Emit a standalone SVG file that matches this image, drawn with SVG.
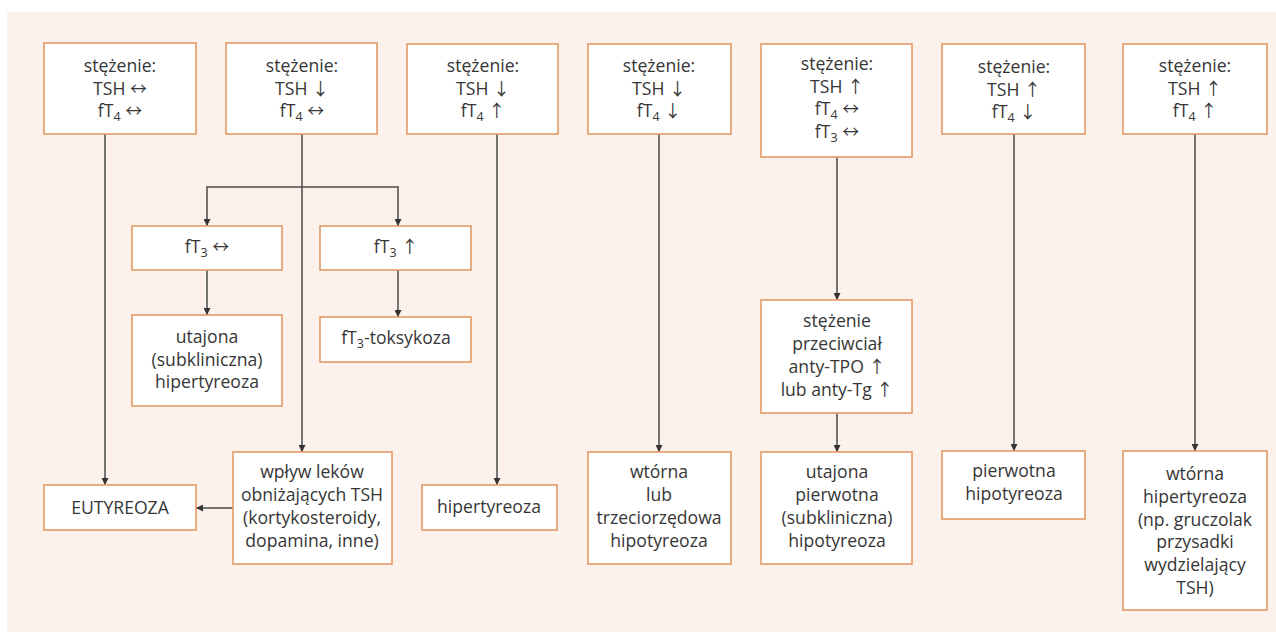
<svg xmlns="http://www.w3.org/2000/svg" width="1276" height="634" viewBox="0 0 1276 634">
<style>
.bx{fill:#ffffff;stroke:#e39a66;stroke-width:1.6}
.t{font-family:"Open Sans","Liberation Sans",sans-serif;font-size:17.6px;fill:#363636;text-anchor:middle}
.s{font-size:12.5px}
.a{font-family:"Noto Sans CJK SC","DejaVu Sans",sans-serif;font-size:17px}
.c{fill:none;stroke:#4a4a4a;stroke-width:1.5}
</style>
<defs>
<marker id="ah" viewBox="0 0 10 10" refX="10" refY="5" markerWidth="7" markerHeight="7" markerUnits="userSpaceOnUse" orient="auto">
<path d="M0,0 L10,5 L0,10 z" fill="#333"/>
</marker>
</defs>
<rect x="7" y="12" width="1269" height="620" fill="#fcf1eb"/>
<g id="connectors">
<path class="c" d="M105,134 V485" marker-end="url(#ah)"/>
<path class="c" d="M302,134 V452" marker-end="url(#ah)"/>
<path class="c" d="M302,187 H207 V226" marker-end="url(#ah)"/>
<path class="c" d="M302,187 H398 V226" marker-end="url(#ah)"/>
<path class="c" d="M207,270 V315" marker-end="url(#ah)"/>
<path class="c" d="M398,270 V317" marker-end="url(#ah)"/>
<path class="c" d="M233,508 H196" marker-end="url(#ah)"/>
<path class="c" d="M497,134 V485" marker-end="url(#ah)"/>
<path class="c" d="M659,134 V452" marker-end="url(#ah)"/>
<path class="c" d="M837,157 V300" marker-end="url(#ah)"/>
<path class="c" d="M837,413 V452" marker-end="url(#ah)"/>
<path class="c" d="M1014,134 V451" marker-end="url(#ah)"/>
<path class="c" d="M1195,134 V451" marker-end="url(#ah)"/>
</g>
<g id="n1">
<rect class="bx" x="44" y="43" width="152" height="91"/>
<text class="t" x="120" y="72">stężenie:</text>
<text class="t" x="120" y="95">TSH <tspan class="a">↔</tspan></text>
<text class="t" x="120" y="117">fT<tspan class="s" dy="4">4</tspan><tspan dy="-4"> </tspan><tspan class="a">↔</tspan></text>
</g>
<g id="n2">
<rect class="bx" x="226" y="43" width="151" height="91"/>
<text class="t" x="302" y="72">stężenie:</text>
<text class="t" x="302" y="95">TSH <tspan class="a">↓</tspan></text>
<text class="t" x="302" y="117">fT<tspan class="s" dy="4">4</tspan><tspan dy="-4"> </tspan><tspan class="a">↔</tspan></text>
</g>
<g id="n3">
<rect class="bx" x="407" y="44" width="151" height="90"/>
<text class="t" x="483" y="72">stężenie:</text>
<text class="t" x="483" y="95">TSH <tspan class="a">↓</tspan></text>
<text class="t" x="483" y="117">fT<tspan class="s" dy="4">4</tspan><tspan dy="-4"> </tspan><tspan class="a">↑</tspan></text>
</g>
<g id="n4">
<rect class="bx" x="588" y="44" width="143" height="90"/>
<text class="t" x="659" y="72">stężenie:</text>
<text class="t" x="659" y="95">TSH <tspan class="a">↓</tspan></text>
<text class="t" x="659" y="117">fT<tspan class="s" dy="4">4</tspan><tspan dy="-4"> </tspan><tspan class="a">↓</tspan></text>
</g>
<g id="n5">
<rect class="bx" x="761" y="44" width="151" height="113"/>
<text class="t" x="837" y="70">stężenie:</text>
<text class="t" x="837" y="93">TSH <tspan class="a">↑</tspan></text>
<text class="t" x="837" y="115">fT<tspan class="s" dy="4">4</tspan><tspan dy="-4"> </tspan><tspan class="a">↔</tspan></text>
<text class="t" x="837" y="138">fT<tspan class="s" dy="4">3</tspan><tspan dy="-4"> </tspan><tspan class="a">↔</tspan></text>
</g>
<g id="n6">
<rect class="bx" x="942" y="44" width="143" height="90"/>
<text class="t" x="1014" y="73">stężenie:</text>
<text class="t" x="1014" y="96">TSH <tspan class="a">↑</tspan></text>
<text class="t" x="1014" y="118">fT<tspan class="s" dy="4">4</tspan><tspan dy="-4"> </tspan><tspan class="a">↓</tspan></text>
</g>
<g id="n7">
<rect class="bx" x="1123" y="44" width="144" height="90"/>
<text class="t" x="1195" y="72">stężenie:</text>
<text class="t" x="1195" y="95">TSH <tspan class="a">↑</tspan></text>
<text class="t" x="1195" y="117">fT<tspan class="s" dy="4">4</tspan><tspan dy="-4"> </tspan><tspan class="a">↑</tspan></text>
</g>
<g id="fT3n">
<rect class="bx" x="132" y="226" width="150" height="44"/>
<text class="t" x="207" y="253">fT<tspan class="s" dy="4">3</tspan><tspan dy="-4"> </tspan><tspan class="a">↔</tspan></text>
</g>
<g id="fT3u">
<rect class="bx" x="320" y="226" width="151" height="44"/>
<text class="t" x="396" y="253">fT<tspan class="s" dy="4">3</tspan><tspan dy="-4"> </tspan><tspan class="a">↑</tspan></text>
</g>
<g id="utajona_hiper">
<rect class="bx" x="132" y="315" width="150" height="91"/>
<text class="t" x="207" y="343">utajona</text>
<text class="t" x="207" y="366">(subkliniczna)</text>
<text class="t" x="207" y="388">hipertyreoza</text>
</g>
<g id="toksykoza">
<rect class="bx" x="320" y="317" width="151" height="45"/>
<text class="t" x="396" y="344">fT<tspan class="s" dy="4">3</tspan><tspan dy="-4">-toksykoza</tspan></text>
</g>
<g id="eutyreoza">
<rect class="bx" x="44" y="485" width="152" height="45"/>
<text class="t" x="120" y="514">EUTYREOZA</text>
</g>
<g id="wplyw">
<rect class="bx" x="233" y="452" width="159" height="112"/>
<text class="t" x="312" y="478">wpływ leków</text>
<text class="t" x="312" y="501">obniżających TSH</text>
<text class="t" x="312" y="524">(kortykosteroidy,</text>
<text class="t" x="312" y="547">dopamina, inne)</text>
</g>
<g id="hipertyreoza">
<rect class="bx" x="422" y="485" width="135" height="45"/>
<text class="t" x="489" y="513">hipertyreoza</text>
</g>
<g id="wtorna_hipo">
<rect class="bx" x="588" y="452" width="143" height="112"/>
<text class="t" x="659" y="478">wtórna</text>
<text class="t" x="659" y="501">lub</text>
<text class="t" x="659" y="524">trzeciorzędowa</text>
<text class="t" x="659" y="547">hipotyreoza</text>
</g>
<g id="przeciwciala">
<rect class="bx" x="761" y="300" width="151" height="113"/>
<text class="t" x="837" y="327">stężenie</text>
<text class="t" x="837" y="350">przeciwciał</text>
<text class="t" x="837" y="373">anty-TPO <tspan class="a">↑</tspan></text>
<text class="t" x="837" y="396">lub anty-Tg <tspan class="a">↑</tspan></text>
</g>
<g id="utajona_hipo">
<rect class="bx" x="761" y="452" width="151" height="112"/>
<text class="t" x="837" y="478">utajona</text>
<text class="t" x="837" y="501">pierwotna</text>
<text class="t" x="837" y="524">(subkliniczna)</text>
<text class="t" x="837" y="547">hipotyreoza</text>
</g>
<g id="pierwotna">
<rect class="bx" x="942" y="451" width="143" height="68"/>
<text class="t" x="1014" y="477">pierwotna</text>
<text class="t" x="1014" y="500">hipotyreoza</text>
</g>
<g id="wtorna_hiper">
<rect class="bx" x="1123" y="451" width="144" height="159"/>
<text class="t" x="1195" y="480">wtórna</text>
<text class="t" x="1195" y="503">hipertyreoza</text>
<text class="t" x="1195" y="526">(np. gruczolak</text>
<text class="t" x="1195" y="548">przysadki</text>
<text class="t" x="1195" y="571">wydzielający</text>
<text class="t" x="1195" y="594">TSH)</text>
</g>
</svg>
